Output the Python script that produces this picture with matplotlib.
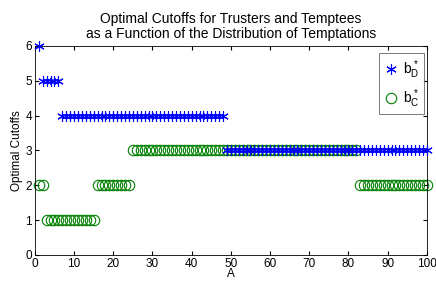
import numpy as np
import matplotlib.pyplot as plt

plt.rcParams['font.family'] = ['Liberation Sans', 'DejaVu Sans']
plt.rcParams['mathtext.fontset'] = 'custom'
plt.rcParams['mathtext.rm'] = 'Liberation Sans'
plt.rcParams['mathtext.it'] = 'Liberation Sans'

# cutoff levels by segment of A (inclusive start, inclusive end, value)
bd_segments = [(1, 1, 6), (2, 6, 5), (7, 48, 4), (49, 100, 3)]
bc_segments = [(1, 2, 2), (3, 15, 1), (16, 24, 2), (25, 82, 3), (83, 100, 2)]

def expand(segs):
    xs, ys = [], []
    for a, b, v in segs:
        for x in range(a, b + 1):
            xs.append(x)
            ys.append(v)
    return np.array(xs), np.array(ys)

A_d, b_d = expand(bd_segments)
A_c, b_c = expand(bc_segments)

fig = plt.figure(figsize=(4.36, 2.82), dpi=100)
ax = fig.add_axes([0.080, 0.096, 0.899, 0.741])
ax.plot(A_d, b_d, linestyle='none', marker=(6, 2, 0), markersize=7.5,
        markeredgewidth=0.8, color='#0000ff', label=r'$b^*_D$', zorder=3, clip_on=False)
ax.plot(A_c, b_c, linestyle='none', marker='o', markersize=7.5,
        markerfacecolor='none', markeredgewidth=0.8, color='#008000', label=r'$b^*_C$',
        zorder=2, clip_on=False)

ax.set_xlim(0, 100)
ax.set_ylim(0, 6)
ax.set_xticks(range(0, 101, 10))
ax.set_yticks(range(0, 7))
ax.tick_params(direction='in', top=True, right=True, labelsize=8.5, length=3, pad=2)
for s in ax.spines.values():
    s.set_linewidth(0.6)
ax.set_xlabel('A', fontsize=8.5, labelpad=-1)
ax.set_ylabel('Optimal Cutoffs', fontsize=8.5, labelpad=2)
ax.set_title('Optimal Cutoffs for Trusters and Temptees\nas a Function of the Distribution of Temptations',
             fontsize=10, linespacing=1.05, pad=6)
leg = ax.legend(loc='upper right', bbox_to_anchor=(0.993, 0.965), fontsize=10,
                fancybox=False, edgecolor='#404040', handletextpad=0.3, borderpad=0.35,
                labelspacing=0.45, handlelength=1.1, borderaxespad=0.0)
leg.get_frame().set_linewidth(0.6)
leg.set_zorder(5)

fig.savefig('out.png', dpi=100)
